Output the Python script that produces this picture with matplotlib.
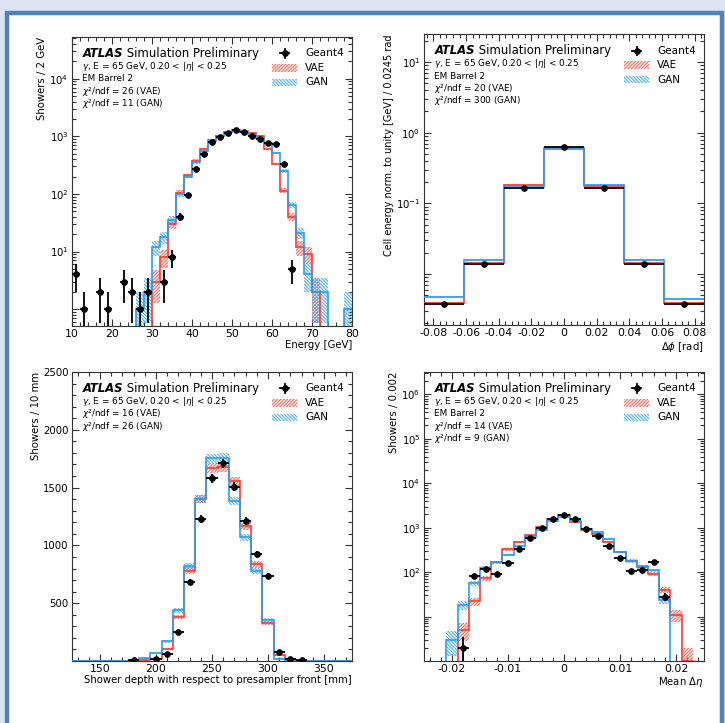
import matplotlib
matplotlib.use("Agg")
import matplotlib.pyplot as plt
import numpy as np
from matplotlib.patches import Rectangle
from matplotlib.ticker import (FixedLocator, MultipleLocator, LogLocator,
                               FuncFormatter, NullFormatter)

plt.rcParams['font.family'] = ['DejaVu Sans']
plt.rcParams['mathtext.fontset'] = 'dejavusans'
plt.rcParams['hatch.linewidth'] = 0.75
plt.rcParams['axes.unicode_minus'] = False

RED = '#ff3b30'
RED_HATCH = '#ff5a4c'
BLUE = '#2a9df4'
BLUE_HATCH = '#45aaf5'
HATCH_VAE = '/' * 10
HATCH_GAN = '\\' * 10

# ---- energy (2 GeV bins) ----
energy_edges = np.arange(10, 82, 2)
energy_g4 = [4, 1, 0, 2, 1, 0, 3, 2, 1, 2,
             0, 3, 8, 40, 95, 275, 500, 810, 960, 1150,
             1300, 1170, 1020, 910, 780, 740, 325, 5, 0, 0,
             0, 0, 0, 0, 0]
energy_vae = [0, 0, 0, 0, 0, 0, 0, 0, 0, 0,
              3, 8, 30, 105, 210, 380, 610, 850, 1000, 1170,
              1300, 1260, 1150, 1020, 600, 330, 114, 40, 12, 9,
              2, 0, 0, 0, 0]
energy_gan = [0, 0, 0, 0, 0, 0, 0, 0, 1, 2,
              12, 18, 35, 100, 200, 355, 560, 815, 1000, 1170,
              1300, 1180, 1080, 950, 760, 515, 250, 65, 21, 4,
              2, 2, 0, 0, 1]

# ---- delta phi (0.0245 rad bins, normalised) ----
dphi_edges = np.linspace(-0.08575, 0.08575, 8)
dphi_g4 = [0.0038, 0.0137, 0.163, 0.634, 0.163, 0.0137, 0.0038]
dphi_vae = [0.0039, 0.0145, 0.180, 0.606, 0.178, 0.0145, 0.0039]
dphi_gan = [0.0048, 0.0158, 0.172, 0.587, 0.180, 0.0158, 0.0044]

# ---- shower depth (10 mm bins) ----
depth_edges = np.arange(125, 385, 10)
depth_g4 = [0, 0, 0, 0, 0, 8, 0, 15, 62, 255,
            681, 1228, 1579, 1709, 1507, 1211, 923, 736, 74, 16,
            10, 0, 0, 0, 0]
depth_vae = [0, 0, 0, 0, 0, 0, 5, 20, 105, 379,
             782, 1400, 1671, 1680, 1556, 1170, 836, 327, 50, 5,
             0, 0, 0, 0, 0]
depth_gan = [0, 0, 0, 0, 0, 3, 25, 65, 169, 439,
             820, 1400, 1752, 1760, 1383, 1070, 779, 356, 20, 3,
             0, 0, 0, 0, 0]

# ---- mean delta eta (0.002 bins) ----
deta_edges = np.linspace(-0.025, 0.025, 26)
deta_g4 = [0, 0, 0, 2, 80, 119, 93, 160, 324, 600,
           1010, 1560, 1950, 1560, 950, 635, 390, 210, 105, 113,
           165, 28, 0, 0, 0]
deta_vae = [0, 0, 0, 5, 22, 73, 168, 324, 473, 670,
            1030, 1580, 1890, 1330, 900, 730, 470, 290, 180, 130,
            92, 40, 11, 1, 0]
deta_gan = [0, 0, 3, 18, 57, 125, 168, 245, 385, 615,
            870, 1450, 1730, 1450, 950, 800, 560, 290, 175, 135,
            110, 24, 0, 0, 0]


def hist_with_band(ax, edges, vals, err, line_color, hatch_color, hatch, floor):
    vals = np.asarray(vals, float)
    centers = 0.5 * (edges[1:] + edges[:-1])
    widths = np.diff(edges)
    keep = vals > 0
    lo = np.maximum(vals - err, floor)
    hi = vals + err
    ax.bar(centers[keep], (hi - lo)[keep], bottom=lo[keep], width=widths[keep],
           fill=False, hatch=hatch, edgecolor=hatch_color, linewidth=0, zorder=2)
    ax.stairs(vals, edges, color=line_color, linewidth=1.2, baseline=None, zorder=3)


def geant4_points(ax, edges, vals, err):
    vals = np.asarray(vals, float)
    centers = 0.5 * (edges[1:] + edges[:-1])
    half = 0.5 * np.diff(edges)
    m = vals > 0
    ax.errorbar(centers[m], vals[m], xerr=half[m], yerr=np.asarray(err)[m],
                fmt='o', color='black', ms=3.8, elinewidth=1.3, capsize=0, zorder=5)


def draw_legend(ax):
    tr = ax.transAxes
    x0, x1 = 0.715, 0.803
    xm = 0.5 * (x0 + x1)
    rows = [0.943, 0.893, 0.843]
    ax.plot([xm - 0.015, xm + 0.015], [rows[0], rows[0]], color='black', lw=1.3,
            transform=tr, clip_on=False, zorder=6)
    ax.plot([xm, xm], [rows[0] - 0.014, rows[0] + 0.014], color='black', lw=1.3,
            transform=tr, clip_on=False, zorder=6)
    ax.plot([xm], [rows[0]], 'o', color='black', ms=3.8, transform=tr, zorder=6)
    for row, hc, hatch in [(rows[1], RED_HATCH, HATCH_VAE), (rows[2], BLUE_HATCH, HATCH_GAN)]:
        ax.add_patch(Rectangle((x0, row - 0.013), x1 - x0, 0.026, transform=tr,
                               fill=False, hatch=hatch, edgecolor=hc, lw=0, zorder=6))
    for row, label in zip(rows, ['Geant4', 'VAE', 'GAN']):
        ax.text(0.832, row, label, transform=tr, fontsize=7.6, va='center', zorder=6)


def atlas_label(ax, lines):
    t = ax.text(0.037, 0.93, 'ATLAS', transform=ax.transAxes, fontsize=8.4,
                fontweight='bold', fontstyle='italic', va='baseline', zorder=6)
    ax.annotate(' Simulation Preliminary', xy=(1, 0), xycoords=t, fontsize=8.4,
                va='bottom', zorder=6)
    for i, line in enumerate(lines):
        ax.text(0.037, 0.889 - 0.0425 * i, line, transform=ax.transAxes,
                fontsize=6.4, va='baseline', zorder=6)


def log_labels(min_exp):
    def fmt(v, pos):
        e = int(round(np.log10(v)))
        return r'$10^{%d}$' % e if e >= min_exp else ''
    return FuncFormatter(fmt)


def style_axes(ax):
    ax.tick_params(which='both', direction='in', top=True, right=True,
                   width=0.8, color='#333333')
    ax.tick_params(which='major', length=5, labelsize=7.3, pad=2.5)
    ax.tick_params(which='minor', length=2.6)
    ax.tick_params(axis='x', which='major', labelsize=7.8)
    for s in ax.spines.values():
        s.set_linewidth(0.8)
        s.set_color('#333333')


def set_log_y(ax, ylim, min_exp):
    ax.set_yscale('log')
    ax.set_ylim(*ylim)
    ax.yaxis.set_major_locator(LogLocator(base=10, numticks=30))
    ax.yaxis.set_minor_locator(LogLocator(base=10, subs=np.arange(2, 10), numticks=100))
    ax.yaxis.set_major_formatter(log_labels(min_exp))
    ax.yaxis.set_minor_formatter(NullFormatter())


def small_fmt(v, pos):
    s = '%g' % round(v, 4)
    return '0' if s in ('-0', '0') else s


def chi2(value, model):
    return r'$\chi$²/ndf = %s (%s)' % (value, model)


fig = plt.figure(figsize=(7.25, 7.23), dpi=100, facecolor='#dce6f2')
fig.patches.append(Rectangle((6.5 / 725, -0.05), 715 / 725, 1 - 13 / 723 + 0.05,
                             transform=fig.transFigure, facecolor='white',
                             edgecolor='#4f81bd', linewidth=3.2, zorder=-10))

W, H = 725.0, 723.0


def panel(left, top, right, bottom):
    return fig.add_axes([left / W, 1 - bottom / H, (right - left) / W, (bottom - top) / H])


gamma_line = r'$\gamma$, E = 65 GeV, 0.20 < |$\eta$| < 0.25'

# ---- panel 1: energy ----
ax1 = panel(72, 37, 352, 326)
floor1 = 0.51
hist_with_band(ax1, energy_edges, energy_vae, np.sqrt(np.asarray(energy_vae, float)),
               RED, RED_HATCH, HATCH_VAE, floor1)
hist_with_band(ax1, energy_edges, energy_gan, np.sqrt(np.asarray(energy_gan, float)),
               BLUE, BLUE_HATCH, HATCH_GAN, floor1)
geant4_points(ax1, energy_edges, energy_g4, np.sqrt(np.asarray(energy_g4, float)))
ax1.set_xlim(10, 80)
set_log_y(ax1, (floor1, 5.3e4), 1)
ax1.xaxis.set_major_locator(MultipleLocator(10))
ax1.xaxis.set_minor_locator(MultipleLocator(2))
style_axes(ax1)
ax1.set_xlabel('Energy [GeV]', loc='right', fontsize=7.3)
ax1.set_ylabel('Showers / 2 GeV', loc='top', fontsize=7.3)
ax1.xaxis.set_label_coords(1.0, -0.05)
ax1.yaxis.set_label_coords(-0.09, 1.0)
atlas_label(ax1, [gamma_line, 'EM Barrel 2', chi2(26, 'VAE'), chi2(11, 'GAN')])
draw_legend(ax1)

# ---- panel 2: delta phi ----
ax2 = panel(424, 34, 704, 325)
floor2 = 0.0019
hist_with_band(ax2, dphi_edges, dphi_vae, 0.03 * np.asarray(dphi_vae), RED, RED_HATCH, HATCH_VAE, floor2)
hist_with_band(ax2, dphi_edges, dphi_gan, 0.03 * np.asarray(dphi_gan), BLUE, BLUE_HATCH, HATCH_GAN, floor2)
geant4_points(ax2, dphi_edges, dphi_g4, 0.02 * np.asarray(dphi_g4))
ax2.set_xlim(dphi_edges[0], dphi_edges[-1])
set_log_y(ax2, (floor2, 25), -1)
ax2.xaxis.set_major_locator(MultipleLocator(0.02))
ax2.xaxis.set_minor_locator(MultipleLocator(0.004))
ax2.xaxis.set_major_formatter(FuncFormatter(small_fmt))
style_axes(ax2)
ax2.set_xlabel(r'$\Delta\phi$ [rad]', loc='right', fontsize=7.3)
ax2.set_ylabel('Cell energy norm. to unity [GeV] / 0.0245 rad', loc='top', fontsize=7.0)
ax2.xaxis.set_label_coords(1.0, -0.05)
ax2.yaxis.set_label_coords(-0.108, 1.0)
atlas_label(ax2, [gamma_line, 'EM Barrel 2', chi2(20, 'VAE'), chi2(300, 'GAN')])
draw_legend(ax2)

# ---- panel 3: shower depth ----
ax3 = panel(72, 372, 352, 661)
hist_with_band(ax3, depth_edges, depth_vae, np.sqrt(np.asarray(depth_vae, float)),
               RED, RED_HATCH, HATCH_VAE, 0)
hist_with_band(ax3, depth_edges, depth_gan, np.sqrt(np.asarray(depth_gan, float)),
               BLUE, BLUE_HATCH, HATCH_GAN, 0)
geant4_points(ax3, depth_edges, depth_g4, np.sqrt(np.asarray(depth_g4, float)))
ax3.set_xlim(125, 375)
ax3.set_ylim(0, 2500)
ax3.xaxis.set_major_locator(MultipleLocator(50))
ax3.xaxis.set_minor_locator(MultipleLocator(10))
ax3.yaxis.set_major_locator(FixedLocator([500, 1000, 1500, 2000, 2500]))
ax3.yaxis.set_minor_locator(MultipleLocator(100))
style_axes(ax3)
ax3.set_xlabel('Shower depth with respect to presampler front [mm]', loc='right', fontsize=7.3)
ax3.set_ylabel('Showers / 10 mm', loc='top', fontsize=7.3)
ax3.xaxis.set_label_coords(1.0, -0.05)
ax3.yaxis.set_label_coords(-0.111, 1.0)
atlas_label(ax3, [gamma_line, chi2(16, 'VAE'), chi2(26, 'GAN')])
draw_legend(ax3)

# ---- panel 4: mean delta eta ----
ax4 = panel(424, 372, 704, 661)
floor4 = 1.0
hist_with_band(ax4, deta_edges, deta_vae, np.sqrt(np.asarray(deta_vae, float)),
               RED, RED_HATCH, HATCH_VAE, floor4)
hist_with_band(ax4, deta_edges, deta_gan, np.sqrt(np.asarray(deta_gan, float)),
               BLUE, BLUE_HATCH, HATCH_GAN, floor4)
geant4_points(ax4, deta_edges, deta_g4, np.sqrt(np.asarray(deta_g4, float)))
ax4.set_xlim(-0.025, 0.025)
set_log_y(ax4, (floor4, 3.2e6), 2)
ax4.xaxis.set_major_locator(MultipleLocator(0.01))
ax4.xaxis.set_minor_locator(MultipleLocator(0.002))
ax4.xaxis.set_major_formatter(FuncFormatter(small_fmt))
style_axes(ax4)
ax4.set_xlabel(r'Mean $\Delta\eta$', loc='right', fontsize=7.3)
ax4.set_ylabel('Showers / 0.002', loc='top', fontsize=7.3)
ax4.xaxis.set_label_coords(1.0, -0.05)
ax4.yaxis.set_label_coords(-0.091, 1.0)
atlas_label(ax4, [gamma_line, 'EM Barrel 2', chi2(14, 'VAE'), chi2(9, 'GAN')])
draw_legend(ax4)

fig.savefig('out.png', dpi=100, facecolor=fig.get_facecolor())
